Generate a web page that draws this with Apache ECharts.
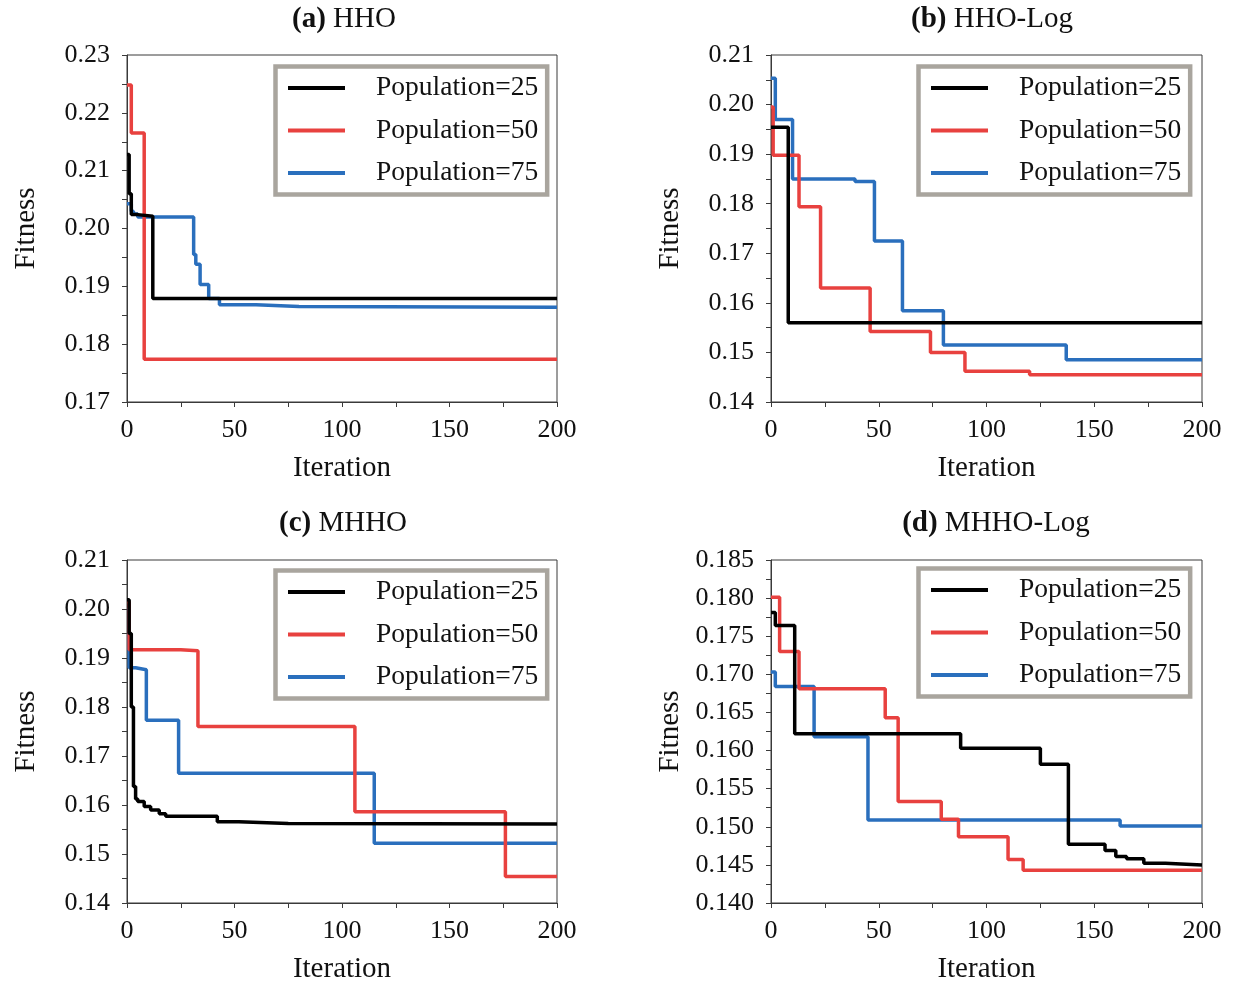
<!DOCTYPE html>
<html>
<head>
<meta charset="utf-8">
<title>Convergence curves</title>
<script src="https://cdn.jsdelivr.net/npm/echarts@6/dist/echarts.min.js"></script>
<style>
  html, body { margin: 0; padding: 0; background: #fff; }
  #chart { width: 1234px; height: 985px; }
</style>
</head>
<body>
<div id="chart"></div>
<script>
// Best fitness per iteration, listed at the iterations where it changes: [iteration, fitness]
const hho25 = [[0,0.2128],[1,0.2060],[2,0.2024],[5,0.2021],[12,0.1879],[200,0.1879]];
const hho50 = [[0,0.2248],[2,0.2165],[8,0.1774],[200,0.1774]];
const hho75 = [[0,0.2043],[2,0.2030],[3,0.2025],[5,0.2020],[31,0.1955],[32,0.1938],[34,0.1903],[38,0.1879],[43,0.1868],[60,0.1865],[80,0.1864],[200,0.1864]];

const hhoLog25 = [[0,0.1954],[8,0.1560],[200,0.1560]];
const hhoLog50 = [[0,0.1995],[1,0.1898],[13,0.1794],[23,0.1630],[46,0.1542],[74,0.1500],[90,0.1462],[120,0.1455],[200,0.1455]];
const hhoLog75 = [[0,0.2053],[2,0.1970],[10,0.1850],[39,0.1845],[48,0.1725],[61,0.1584],[80,0.1515],[137,0.1485],[200,0.1485]];

const mhho25 = [[0,0.2019],[1,0.1950],[2,0.1800],[3,0.1638],[4,0.1612],[5,0.1607],[8,0.1597],[11,0.1590],[15,0.1582],[18,0.1577],[42,0.1566],[52,0.1562],[75,0.1561],[200,0.1561]];
const mhho50 = [[0,0.2015],[1,0.1917],[25,0.1915],[33,0.1760],[106,0.1586],[176,0.1454],[200,0.1454]];
const mhho75 = [[0,0.1999],[1,0.1880],[4,0.1876],[9,0.1773],[24,0.1665],[115,0.1522],[200,0.1522]];

const mhhoLog25 = [[0,0.1781],[2,0.1764],[11,0.1622],[88,0.1603],[125,0.1582],[138,0.1477],[155,0.1469],[160,0.1461],[165,0.1458],[173,0.1452],[183,0.1450],[200,0.1450]];
const mhhoLog50 = [[0,0.1801],[4,0.1730],[13,0.1681],[53,0.1643],[59,0.1533],[79,0.1510],[87,0.1487],[110,0.1457],[117,0.1443],[200,0.1443]];
const mhhoLog75 = [[0,0.1703],[2,0.1684],[20,0.1618],[45,0.1509],[162,0.1501],[200,0.1501]];

const seriesNames = ['Population=25', 'Population=50', 'Population=75'];
const panelTitles = [['(a)', 'HHO'], ['(b)', 'HHO-Log'], ['(c)', 'MHHO'], ['(d)', 'MHHO-Log']];
const panelData = [
  [hho25, hho50, hho75],
  [hhoLog25, hhoLog50, hhoLog75],
  [mhho25, mhho50, mhho75],
  [mhhoLog25, mhhoLog50, mhhoLog75]
];
// y-axis ranges: [min, max, interval, decimals]
const yRanges = [
  [0.17, 0.23, 0.01, 2],
  [0.14, 0.21, 0.01, 2],
  [0.14, 0.21, 0.01, 2],
  [0.140, 0.185, 0.005, 3]
];
const xRange = [0, 200, 50];

const FONT = "'Liberation Serif', 'Times New Roman', serif";
const COLORS = ['#000000', '#e8413f', '#2a6fbd'];
const AXIS_COLOR = '#3a3a3a';

// plot rectangles of the four panels
const grids = [
  { left: 127, top: 55, width: 430, height: 347 },
  { left: 771, top: 55, width: 431, height: 347 },
  { left: 127, top: 560, width: 430, height: 345 },
  { left: 771, top: 560, width: 431, height: 346 }
];
const titleCenters = [[344, 5], [992, 5], [343, 509], [996, 509]];
const legendPos = [[275.5, 66.5], [918.5, 66.5], [275.5, 570.5], [918.5, 568.5]];

const option = {
  backgroundColor: '#ffffff',
  animation: false,
  textStyle: { fontFamily: FONT },
  title: panelTitles.map((t, i) => ({
    text: '{b|' + t[0] + '} ' + t[1],
    left: titleCenters[i][0],
    top: titleCenters[i][1],
    textAlign: 'center',
    padding: 0,
    textStyle: {
      fontFamily: FONT, fontSize: 29, fontWeight: 'normal', color: '#111',
      rich: { b: { fontFamily: FONT, fontSize: 29, fontWeight: 'bold', color: '#111' } }
    }
  })),
  legend: legendPos.map((p, i) => ({
    left: p[0],
    top: p[1],
    orient: 'vertical',
    data: seriesNames,
    icon: 'rect',
    itemWidth: 57,
    itemHeight: 4,
    itemGap: 12.5,
    padding: [6.5, 9, 6.5, 12.5],
    borderColor: '#a9a59e',
    borderWidth: 4.5,
    backgroundColor: '#ffffff',
    selectedMode: false,
    textStyle: {
      fontFamily: FONT, fontSize: 27.5, color: '#111',
      lineHeight: 30, padding: [0, 0, 0, 26]
    }
  })),
  grid: grids.map(g => Object.assign({
    show: true, borderColor: AXIS_COLOR, borderWidth: 1, backgroundColor: 'transparent'
  }, g)),
  xAxis: grids.map((g, i) => ({
    type: 'value',
    gridIndex: i,
    min: xRange[0], max: xRange[1], interval: xRange[2],
    name: 'Iteration',
    nameLocation: 'middle',
    nameGap: 52,
    nameTextStyle: { fontFamily: FONT, fontSize: 29, color: '#111' },
    axisLine: { show: true, lineStyle: { color: AXIS_COLOR, width: 1 } },
    axisTick: { show: true, inside: false, length: 5, lineStyle: { color: AXIS_COLOR } },
    minorTick: { show: true, splitNumber: 2, length: 5, lineStyle: { color: AXIS_COLOR } },
    axisLabel: { fontFamily: FONT, fontSize: 26, color: '#111', margin: 15 },
    splitLine: { show: false }
  })),
  yAxis: yRanges.map((r, i) => ({
    type: 'value',
    gridIndex: i,
    min: r[0], max: r[1], interval: r[2],
    name: 'Fitness',
    nameLocation: 'middle',
    nameGap: 86,
    nameTextStyle: { fontFamily: FONT, fontSize: 29, color: '#111' },
    axisLine: { show: true, lineStyle: { color: AXIS_COLOR, width: 1 } },
    axisTick: { show: true, inside: false, length: 5, lineStyle: { color: AXIS_COLOR } },
    minorTick: { show: true, splitNumber: 2, length: 5, lineStyle: { color: AXIS_COLOR } },
    axisLabel: {
      fontFamily: FONT, fontSize: 26, color: '#111', margin: 17,
      formatter: v => v.toFixed(r[3])
    },
    splitLine: { show: false }
  })),
  series: []
};

panelData.forEach((sets, i) => {
  sets.forEach((d, k) => {
    option.series.push({
      type: 'line',
      name: seriesNames[k],
      xAxisIndex: i,
      yAxisIndex: i,
      data: d,
      step: 'end',
      symbol: 'none',
      color: COLORS[k],
      lineStyle: { width: 3.5, color: COLORS[k] },
      z: 3 - k
    });
  });
});

const chart = echarts.init(document.getElementById('chart'), null, { renderer: 'canvas' });
chart.setOption(option);
</script>
</body>
</html>
